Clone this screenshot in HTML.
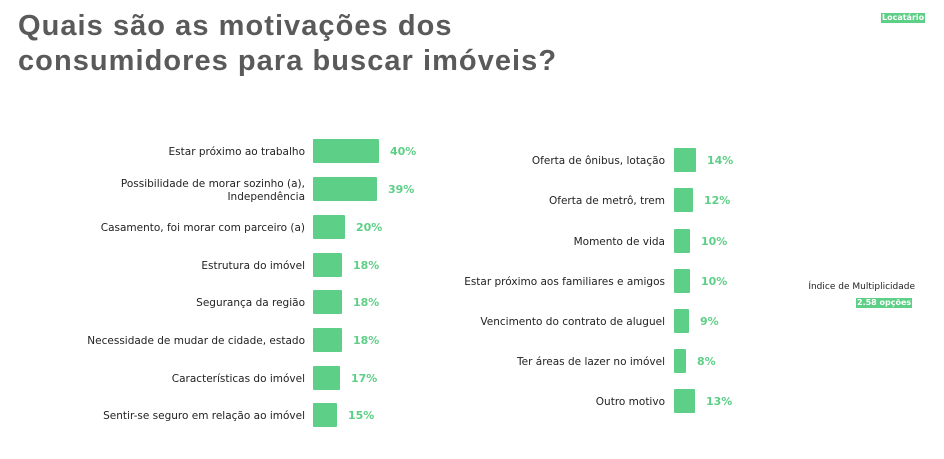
<!DOCTYPE html>
<html><head><meta charset="utf-8"><style>
body{margin:0;width:944px;height:459px;background:#fff;position:relative;overflow:hidden;font-family:"DejaVu Sans","Liberation Sans",sans-serif;}
.t{position:absolute;left:18px;top:9px;font-family:"Liberation Sans",sans-serif;font-weight:bold;font-size:29px;line-height:35px;color:#5a5a5a;letter-spacing:1.05px;}
.l{position:absolute;font-size:10.5px;color:#222;text-align:right;line-height:13px;}
.b{position:absolute;height:24px;background:#5ecf86;border-radius:1px;}
.p{position:absolute;font-size:11px;font-weight:bold;color:#5ecf86;}
.badge{position:absolute;background:#5ecf86;color:#fff;font-size:8px;font-weight:bold;line-height:10px;padding:0 1px;}
</style></head><body>
<div class="t">Quais são as motivações dos<br>consumidores para buscar imóveis?</div>
<div class="badge" style="left:881px;top:13px;">Locatário</div>
<div class="l" style="right:29px;top:281px;font-size:9px;">Índice de Multiplicidade</div>
<div class="badge" style="left:856px;top:298px;">2.58 opções</div>
<div id="c"></div>
<script>
var L=[["Estar próximo ao trabalho",66,151,"40%"],["Possibilidade de morar sozinho (a),<br>Independência",64,189,"39%"],["Casamento, foi morar com parceiro (a)",32,227,"20%"],["Estrutura do imóvel",29,265,"18%"],["Segurança da região",29,302,"18%"],["Necessidade de mudar de cidade, estado",29,340,"18%"],["Características do imóvel",27,378,"17%"],["Sentir-se seguro em relação ao imóvel",24,415,"15%"]];
var R=[["Oferta de ônibus, lotação",22,160,"14%"],["Oferta de metrô, trem",19,200,"12%"],["Momento de vida",16,241,"10%"],["Estar próximo aos familiares e amigos",16,281,"10%"],["Vencimento do contrato de aluguel",15,321,"9%"],["Ter áreas de lazer no imóvel",12,361,"8%"],["Outro motivo",21,401,"13%"]];
var h="";
function add(a,x0,le){a.forEach(function(d){var two=d[0].indexOf("<br>")>=0;
h+='<div class="l" style="right:'+(944-le)+'px;top:'+(d[2]-(two?11:5))+'px">'+d[0]+'</div>';
h+='<div class="b" style="left:'+x0+'px;top:'+(d[2]-12)+'px;width:'+d[1]+'px"></div>';
h+='<div class="p" style="left:'+(x0+d[1]+11)+'px;top:'+(d[2]-6)+'px">'+d[3]+'</div>';});}
add(L,313,305);add(R,674,665);
document.getElementById("c").innerHTML=h;
</script>
</body></html>
